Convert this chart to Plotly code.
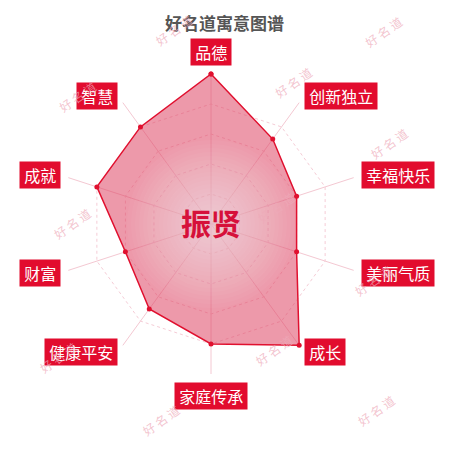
import math
import plotly.graph_objects as go

# 寓意维度（从正上方顺时针）
categories = ['品德', '创新独立', '幸福快乐', '美丽气质', '成长',
              '家庭传承', '健康平安', '财富', '成就', '智慧']
scores = [100, 70, 60, 60, 100, 80, 70, 60, 80, 80]
name_text = '振贤'
title_text = '好名道寓意图谱'
watermark = '好 名 道'

OFF = 8            # page body margin
W = H = 434
cx, cy, R = 211, 224, 150   # centre and radius of the radar, px in the picture


def X(px):
    return (px - OFF) / W


def Y(py):
    return 1 - (py - OFF) / H


fig = go.Figure()
fig.add_trace(go.Scatterpolar(
    r=scores + scores[:1],
    theta=categories + categories[:1],
    mode='lines+markers',
    fill='toself',
    fillcolor='rgba(222,70,100,0.55)',
    line=dict(color='#e0102f', width=1.5),
    marker=dict(color='#e0102f', size=5),
    hoverinfo='skip',
))

fig.update_layout(
    width=W, height=H,
    margin=dict(l=0, r=0, t=0, b=0),
    paper_bgcolor='white',
    showlegend=False,
    font=dict(family='Noto Sans CJK SC'),
    polar=dict(
        domain=dict(x=[X(cx - R), X(cx + R)],
                    y=[Y(cy + R), Y(cy - R)]),
        bgcolor='rgba(0,0,0,0)',
        gridshape='linear',
        radialaxis=dict(range=[0, 100], tickvals=[20, 40, 60, 80, 100],
                        showticklabels=False, ticks='', showline=False,
                        gridcolor='#f5ccd6', griddash='dot', gridwidth=1),
        angularaxis=dict(direction='clockwise', rotation=90,
                         showticklabels=False, ticks='', showline=False,
                         gridcolor='#f4c8d2', gridwidth=1),
    ),
)

# soft radial highlight in the middle of the fill
for rad in range(84, 8, -4):
    fig.add_shape(type='circle', xref='paper', yref='paper',
                  x0=X(cx - rad), x1=X(cx + rad),
                  y0=Y(cy + rad), y1=Y(cy - rad),
                  fillcolor='white', opacity=0.036, line_width=0,
                  layer='above')

# category labels in red boxes
for i, cat in enumerate(categories):
    a = math.radians(i * 360 / len(categories))
    s, c = math.sin(a), math.cos(a)
    xa = 'left' if s > 0.01 else ('right' if s < -0.01 else 'center')
    ya = 'bottom' if c > 0.99 else ('top' if c < -0.99 else 'middle')
    fig.add_annotation(x=X(cx + 158 * s), y=Y(cy - 158 * c),
                       xref='paper', yref='paper',
                       text='\u2009' + cat + '\u2009', showarrow=False,
                       xanchor=xa, yanchor=ya,
                       font=dict(size=16, color='white'),
                       bgcolor='#e20c2e', borderpad=1)

# title and centre name
fig.add_annotation(x=X(224), y=Y(8), xref='paper', yref='paper',
                   text='<b>' + title_text + '</b>', showarrow=False,
                   yanchor='top',
                   font=dict(size=17, color='#555555'))
fig.add_annotation(x=X(cx), y=Y(222), xref='paper', yref='paper',
                   text='<b>' + name_text + '</b>', showarrow=False,
                   yanchor='middle',
                   font=dict(size=30, color='#d6103a'))

# watermarks
wm_pos = [(173, 30), (408, 32), (53, 97), (293, 83), (413, 143),
          (47, 223), (300, 207), (397, 280), (33, 357), (273, 350),
          (160, 420), (400, 410)]
for x, y in wm_pos:
    fig.add_annotation(x=X(x), y=Y(y), xref='paper', yref='paper',
                       text=watermark, showarrow=False, textangle=-35,
                       yanchor='middle',
                       font=dict(size=12, color='rgba(238,170,185,0.7)'))

fig.write_html('out.html')
